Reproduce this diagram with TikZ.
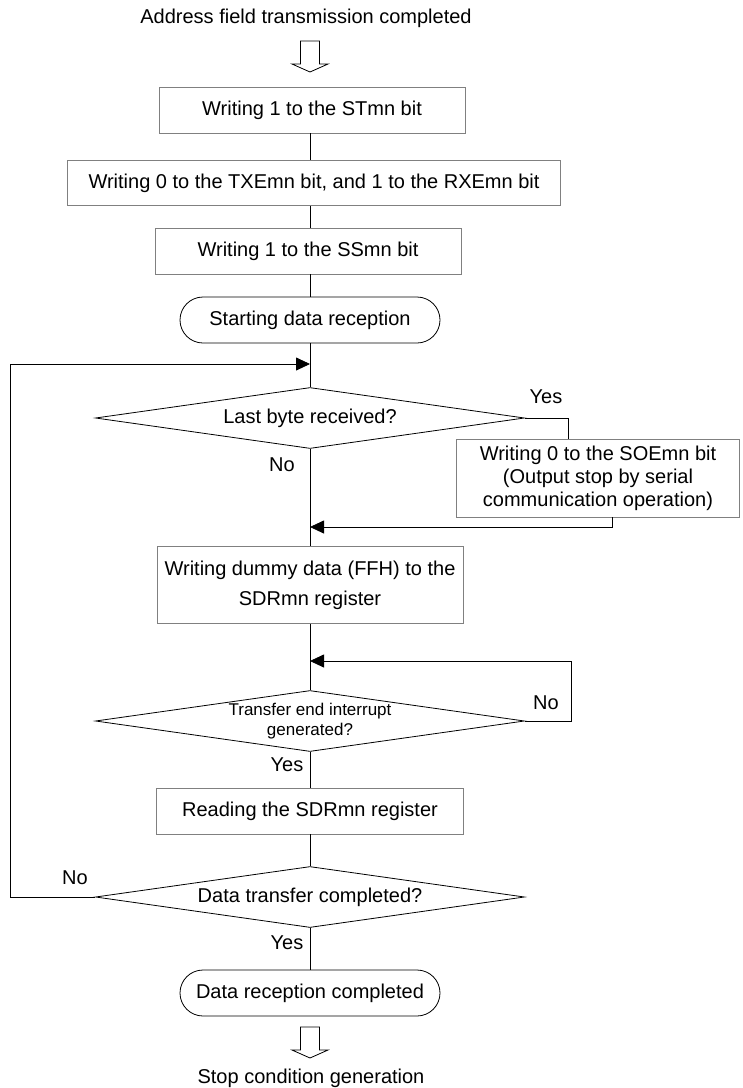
\documentclass[tikz,border=0pt]{standalone}
\usepackage{fontspec}
\setmainfont{Liberation Sans}
\usetikzlibrary{arrows.meta,shapes.geometric}

\begin{document}
\begin{tikzpicture}[x=1pt, y=-1pt, line width=0.8pt,
  every node/.style={font=\fontsize{20}{23}\selectfont},
  procbox/.style={draw=black!50, rectangle, align=center, inner sep=0pt},
  termbox/.style={draw, rectangle, rounded corners=23pt, minimum width=260pt, minimum height=46pt, inner sep=0pt},
  decbox/.style={draw, diamond, aspect=7, minimum width=429pt, minimum height=61pt, inner sep=0pt, align=center},
  merge/.style={-{Triangle[length=14pt,width=13pt]}}]
\useasboundingbox (0,0) rectangle (743,1088);

% start / end texts
\node (title) at (306,18) {Address field transmission completed};
\node (stopcond) at (311,1078) {Stop condition generation};
\foreach \ytop in {41,1027}
  \draw (310,\ytop) ++(-9.5,0) -- ++(0,23) -- ++(-8.5,0) -- ++(18,8) -- ++(18,-8) -- ++(-8.5,0) -- ++(0,-23) -- cycle;

% flow nodes
\node[procbox, minimum width=306pt, minimum height=46pt] (stbit) at (312,110) {Writing 1 to the STmn bit};
\node[procbox, minimum width=493pt, minimum height=45pt] (txrx) at (314,183) {Writing 0 to the TXEmn bit, and 1 to the RXEmn bit};
\node[procbox, minimum width=306pt, minimum height=46pt] (ssbit) at (308,251) {Writing 1 to the SSmn bit};
\node[termbox] (start) at (310,320) {Starting data reception};
\node[decbox] (lastbyte) at (310,418) {Last byte received?};
\node[procbox, minimum width=283pt, minimum height=78pt] (soe) at (598,478) {Writing 0 to the SOEmn bit\\(Output stop by serial\\communication operation)};
\node[procbox, minimum width=306pt, minimum height=77pt, font=\fontsize{20}{30}\selectfont] (dummy) at (310,585) {Writing dummy data (FFH) to the\\SDRmn register};
\node[decbox, font=\fontsize{17}{20}\selectfont] (xferint) at (310,721) {Transfer end interrupt\\generated?};
\node[procbox, minimum width=307pt, minimum height=46pt] (readsdr) at (310,811) {Reading the SDRmn register};
\node[decbox] (xferdone) at (310,897) {Data transfer completed?};
\node[termbox] (finish) at (310,993) {Data reception completed};

% branch labels
\node (yes1) at (546,397) {Yes};
\node (no1) at (282,465) {No};
\node (no2) at (546,703) {No};
\node (yes2) at (287,765) {Yes};
\node (no3) at (75,878) {No};
\node (yes3) at (287,943) {Yes};

% helper points
\coordinate (axis) at (310,0);
\coordinate (loopin) at (310,364);
\coordinate (loopleft) at (10,364);
\coordinate (yesx) at (568,0);
\coordinate (soeoutx) at (612,0);
\coordinate (soein) at (310,527);
\coordinate (intright) at (571,661);
\coordinate (intin) at (310,661);

% connectors
\draw (stbit.south -| axis) -- (txrx.north -| axis);
\draw (txrx.south -| axis) -- (ssbit.north -| axis);
\draw (ssbit.south -| axis) -- (start.north);
\draw (start.south) -- (lastbyte.north);
\draw (lastbyte.south) -- (dummy.north);
\draw (lastbyte.east) -| (soe.north -| yesx);
\draw[merge] (soe.south -| soeoutx) |- (soein);
\draw (dummy.south) -- (xferint.north);
\draw[merge] (xferint.east) -| (intright) -- (intin);
\draw (xferint.south) -- (readsdr.north);
\draw (readsdr.south) -- (xferdone.north);
\draw[merge] (xferdone.west) -| (loopleft) -- (loopin);
\draw (xferdone.south) -- (finish.north);
\end{tikzpicture}
\end{document}
